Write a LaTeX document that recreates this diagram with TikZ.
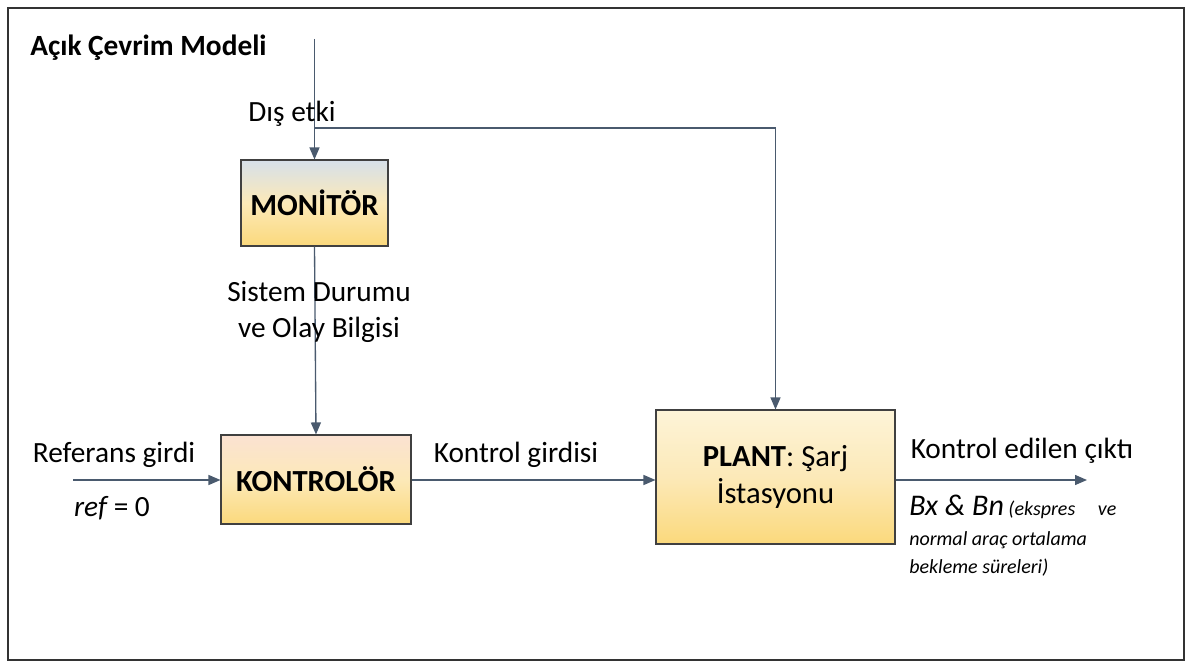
\documentclass[tikz,border=0pt]{standalone}
\usepackage{fontspec}
\setmainfont{Carlito}
\usepackage{tikz}
\usetikzlibrary{arrows.meta, positioning}
\definecolor{linegray}{HTML}{4A5A6E}
\definecolor{boxedge}{HTML}{404040}
\definecolor{topblue}{HTML}{D6E0EA}
\definecolor{toppeach}{HTML}{FBE2D2}
\definecolor{topcream}{HTML}{FDF4D8}
\definecolor{midyellow}{HTML}{FCE9B8}
\definecolor{boxyellow}{HTML}{FBD97C}

\begin{document}
\begin{tikzpicture}[
  x=0.75pt, y=-0.75pt,
  block/.style={
    rectangle, draw=boxedge, line width=0.8pt, inner sep=0pt,
    align=center, font=\fontsize{23}{28}\selectfont,
    bottom color=boxyellow
  },
  arr/.style={-{Triangle[length=9pt, width=7.5pt]}, line width=1pt, color=linegray},
  txt/.style={font=\fontsize{22}{27.5}\selectfont, inner sep=0pt, align=center}
]
  \useasboundingbox (0,0) rectangle (1192,666);
  \draw[line width=1.2pt, color=black!80] (8,8) rectangle (1184,660);

  % Title
  \node[txt, anchor=west] (title) at (30,48) {\bfseries Açık Çevrim Modeli};

  % Blocks
  \node[block, minimum width=110.25pt, minimum height=64.5pt,
        top color=topblue, middle color=midyellow] (monitor) at (314.5,203) {\bfseries MONİTÖR};
  \node[block, minimum width=142.5pt, minimum height=66.75pt,
        top color=toppeach, middle color=midyellow] (kontrol) at (316,479.5) {\bfseries KONTROLÖR};
  \node[block, minimum width=179.25pt, minimum height=100.5pt,
        top color=topcream, middle color=midyellow] (plant) at (775.5,477) {\textbf{PLANT}: Şarj\\İstasyonu};

  % Free ends and branch point
  \coordinate (dis) at (314.5,39);
  \coordinate (branch) at (314.5,128);
  \coordinate (refin) at (73,480);
  \coordinate (out) at (1087,480);

  % Connectors
  \draw[arr] (dis) -- (monitor.north);
  \draw[arr] (branch) -| (plant.north);
  \draw[arr] (monitor.south) -- (kontrol.north);
  \draw[arr] (refin) -- (kontrol.west |- refin);
  \draw[arr] (kontrol.east |- refin) -- (plant.west |- refin);
  \draw[arr] (plant.east |- refin) -- (out);

  % Labels
  \node[txt] (distext) at (292,114) {Dış etki};
  \node[txt] (durum) at (319,312) {Sistem Durumu\\ve Olay Bilgisi};
  \node[txt] (reftext) at (114,455) {Referans girdi};
  \node[txt] (refzero) at (112,508) {\itshape ref\upshape\ = 0};
  \node[txt] (kgirdi) at (516,455) {Kontrol girdisi};
  \node[txt] (cikti) at (1022,451) {Kontrol edilen çıktı};
  \node[txt, anchor=north west, align=left, font=\fontsize{15}{20.5}\selectfont\itshape]
    (bxbn) at (909,495) {{\fontsize{22.5}{22}\selectfont Bx \& Bn} (ekspres\hspace{17pt}ve\\[2pt]normal araç ortalama\\bekleme süreleri)};
\end{tikzpicture}
\end{document}
